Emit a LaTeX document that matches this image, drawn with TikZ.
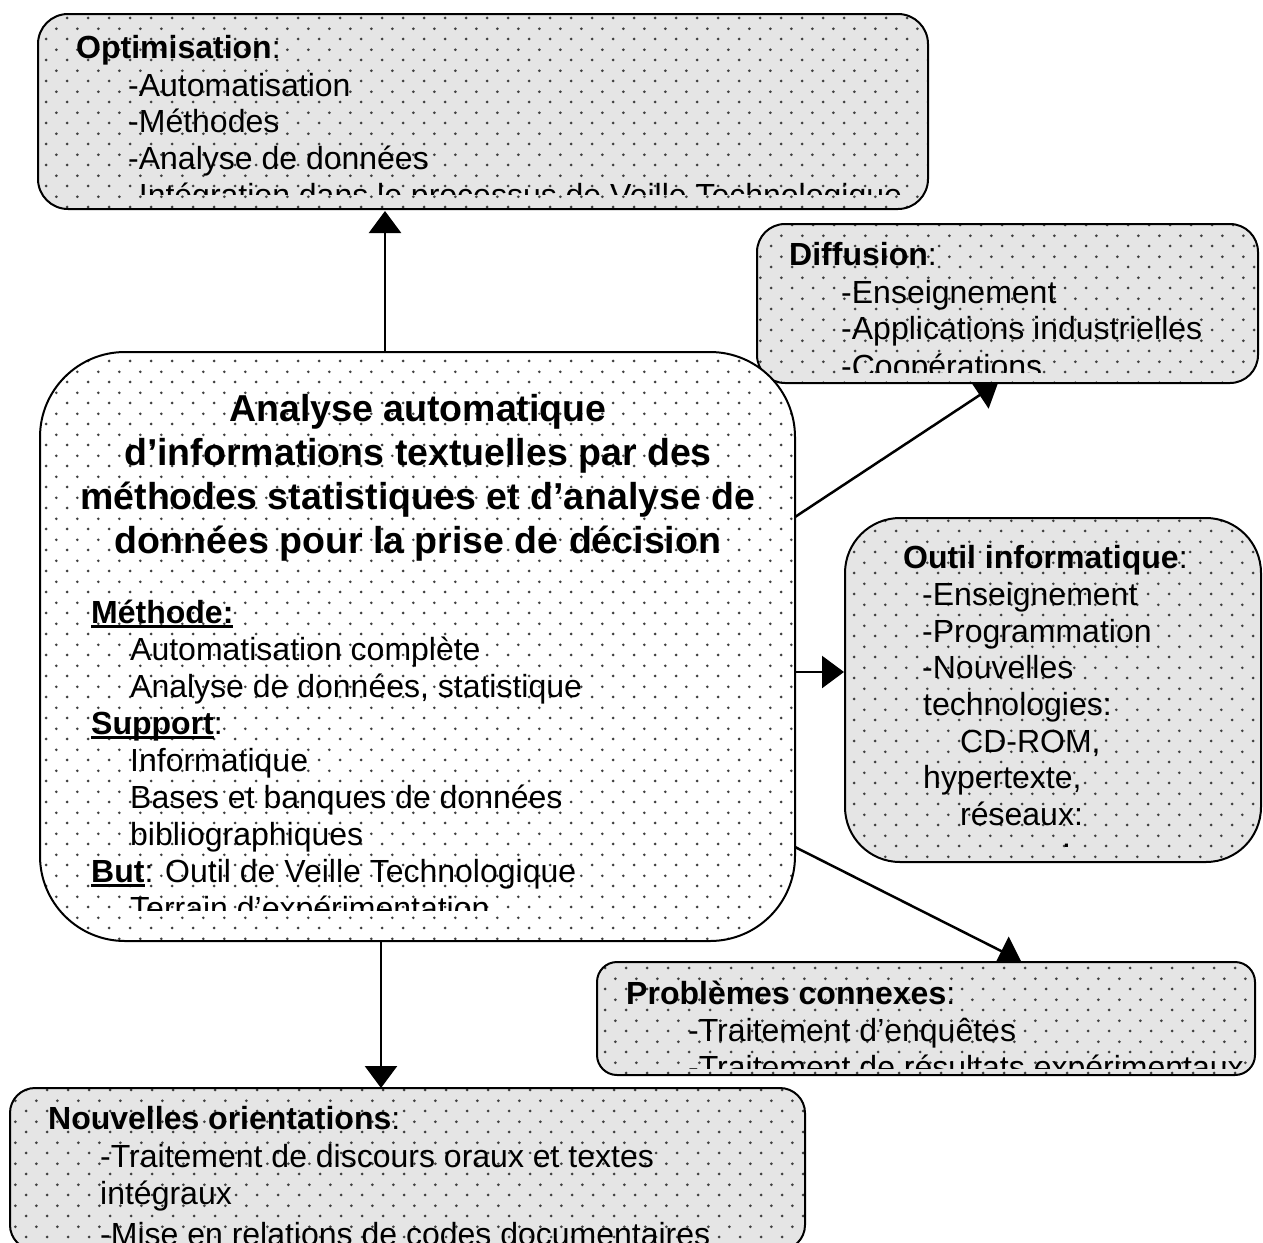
\documentclass[tikz,border=0pt]{standalone}
\usepackage{fontspec}
\setmainfont{Liberation Sans}
\usetikzlibrary{arrows.meta,patterns.meta,calc}
\pgfdeclarelayer{bg}
\pgfsetlayers{bg,main}
\tikzdeclarepattern{
  name=bdots,
  type=uncolored,
  bottom left={(0pt,0pt)},
  top right={(20.7pt,20.6pt)},
  tile size={(20.7pt,20.6pt)},
  code={
    \fill (5.2pt,5.15pt) circle (1.5pt);
    \fill (15.55pt,15.45pt) circle (1.5pt);
  }
}
\newcommand\myBody{\fontsize{32}{37}\selectfont}
\newcommand\myTitle{\fontsize{37.5}{44}\selectfont\bfseries}
\newcommand\ulx[1]{\setbox0=\hbox{#1}\rlap{\rule[-4.5pt]{\wd0}{2.6pt}}\box0}
\begin{document}
\begin{tikzpicture}[x=1pt,y=-1pt,
  gbox/.style={draw=black, line width=2pt, rounded corners=#1, preaction={fill=gray!20},
    pattern=bdots, pattern color=black!75, outer sep=0pt, inner sep=0pt, anchor=north west},
  wbox/.style={draw=black, line width=2pt, rounded corners=#1, preaction={fill=white},
    pattern=bdots, pattern color=black!75, outer sep=0pt, inner sep=0pt, anchor=north west},
  arr/.style={line width=2.5pt, -{Triangle[width=32pt,length=22pt]}},
  txt/.style={anchor=base west, inner sep=0pt, font=\myBody},
  ttl/.style={anchor=base, inner sep=0pt, font=\myTitle}]
\useasboundingbox (0,0) rectangle (1263,1242);
\clip (0,0) rectangle (1263,1242);

% boxes
\node[gbox=30, minimum width=890pt, minimum height=195pt] (opt) at (38,14) {};
\node[gbox=28, minimum width=501pt, minimum height=159pt] (diff) at (757,224) {};
\node[wbox=85, minimum width=755pt, minimum height=589pt] (cen) at (40,352) {};
\node[gbox=55, minimum width=416pt, minimum height=344pt] (out) at (845,518) {};
\node[gbox=20, minimum width=658pt, minimum height=113pt] (prob) at (597,962) {};
\node[gbox=25, minimum width=795pt, minimum height=162pt] (nouv) at (10,1088) {};

% connectors (behind the boxes)
\begin{pgfonlayer}{bg}
\draw[arr] ($(cen.north west)+(345,0)$) -- ($(opt.south west)+(347,2)$);
\draw[arr] ($(cen.north east)+(0,165)$) -- ($(diff.south west)+(241,0)$);
\draw[arr] ($(cen.north east)+(0,320)$) -- ($(out.north west)+(-1,154)$);
\draw[arr] ($(cen.north east)+(0,495)$) -- ($(prob.north west)+(424,-1)$);
\draw[arr] ($(cen.south west)+(341,0)$) -- ($(nouv.north west)+(371,0)$);
\end{pgfonlayer}

% Optimisation
\begin{scope}
\clip (opt.north west) rectangle ($(opt.south east)+(0,-15)$);
\node[txt] (o1) at (76,58) {\textbf{Optimisation}:};
\node[txt] (o2) at (128,96) {-Automatisation};
\node[txt] (o3) at (128,132) {-Méthodes};
\node[txt] (o4) at (128,169) {-Analyse de données};
\node[txt] (o5) at (128,206) {-Intégration dans le processus de Veille Technologique};
\end{scope}

% Diffusion
\begin{scope}
\clip (diff.north west) rectangle ($(diff.south east)+(0,-11)$);
\node[txt] (d1) at (789,265) {\textbf{Diffusion}:};
\node[txt] (d2) at (841,303) {-Enseignement};
\node[txt] (d3) at (841,339) {-Applications industrielles};
\node[txt] (d4) at (841,377) {-Coopérations};
\end{scope}

% Central
\node[ttl] (c1) at (418,421) {Analyse automatique};
\node[ttl] (c2) at (418,465) {d’informations textuelles par des};
\node[ttl] (c3) at (418,509) {méthodes statistiques et d’analyse de};
\node[ttl] (c4) at (418,553) {données pour la prise de décision};
\begin{scope}
\clip (cen.north west) rectangle ($(cen.south east)+(0,-31)$);
\node[txt] (m1) at (91,623) {\ulx{\textbf{Méthode:}}};
\node[txt] (m2) at (130,660) {Automatisation complète};
\node[txt] (m3) at (130,697) {Analyse de données, statistique};
\node[txt] (m4) at (91,734) {\ulx{\textbf{Support}}:};
\node[txt] (m5) at (130,771) {Informatique};
\node[txt] (m6) at (130,808) {Bases et banques de données};
\node[txt] (m7) at (130,845) {bibliographiques};
\node[txt] (m8) at (91,882) {\ulx{\textbf{But}}: Outil de Veille Technologique};
\node[txt] (m9) at (130,919) {Terrain d’expérimentation};
\end{scope}

% Outil informatique
\node[txt] (u1) at (903,568) {\textbf{Outil informatique}:};
\node[txt] (u2) at (922,605) {-Enseignement};
\node[txt] (u3) at (922,642) {-Programmation};
\node[txt] (u4) at (922,678) {-Nouvelles};
\node[txt] (u5) at (923,715) {technologies:};
\node[txt] (u6) at (960,752) {CD-ROM,};
\node[txt] (u7) at (923,788) {hypertexte,};
\node[txt] (u8) at (960,825) {réseaux:};
\node[txt] (u9) at (1062,847) {.};

% Problemes connexes
\begin{scope}
\clip (prob.north west) rectangle ($(prob.south east)+(0,-7)$);
\node[txt] (p1) at (626,1004) {\textbf{Problèmes connexes}:};
\node[txt] (p2) at (688,1041) {-Traitement d’enquêtes};
\node[txt] (p3) at (688,1078) {-Traitement de résultats expérimentaux};
\end{scope}

% Nouvelles orientations
\node[txt] (n1) at (48,1129) {\textbf{Nouvelles orientations}:};
\node[txt] (n2) at (100,1167) {-Traitement de discours oraux et textes};
\node[txt] (n3) at (100,1204) {intégraux};
\node[txt] (n4) at (100,1245) {-Mise en relations de codes documentaires};
\end{tikzpicture}
\end{document}
